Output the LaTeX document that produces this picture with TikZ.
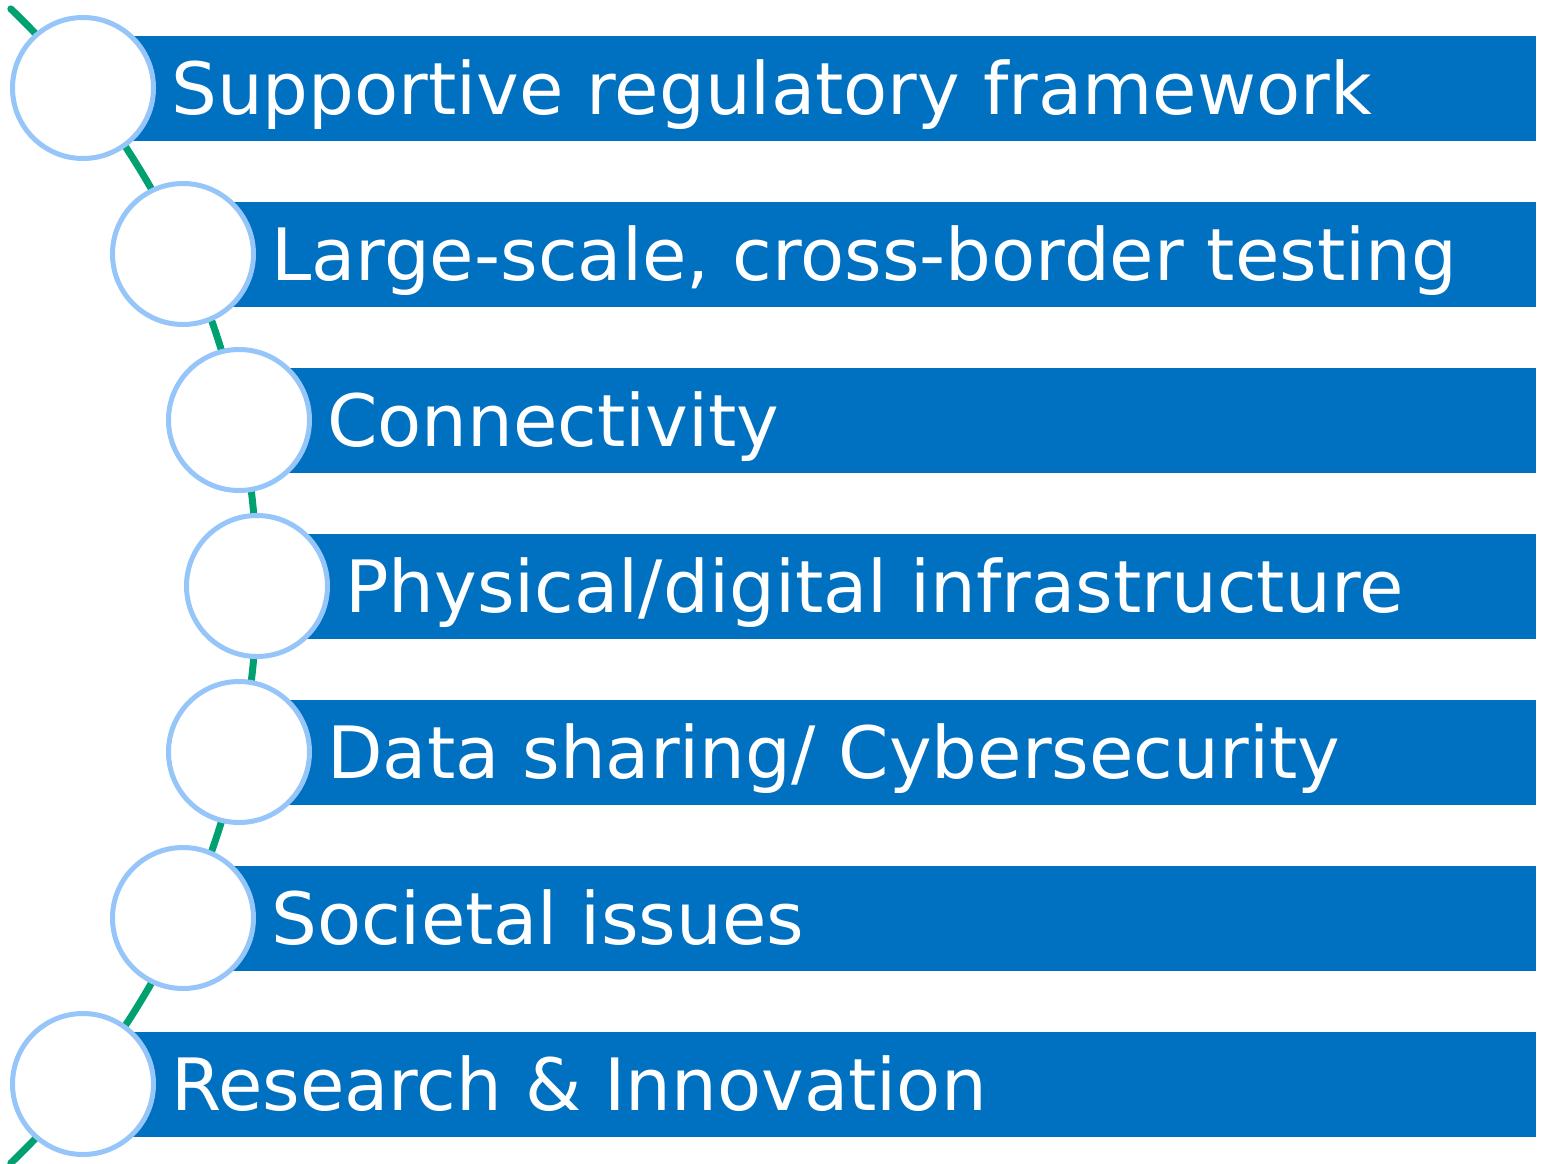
\documentclass[tikz,border=0pt]{standalone}
\usepackage{fontspec}
\setmainfont{DejaVu Sans}
\definecolor{barblue}{RGB}{0,112,192}
\definecolor{ringblue}{RGB}{150,197,250}
\definecolor{arcgreen}{RGB}{0,160,112}
\tikzset{
  bar/.style={fill=barblue, draw=none},
  ring/.style={circle, draw=ringblue, fill=white, line width=5pt, minimum size=141pt, inner sep=0pt},
  label/.style={anchor=base west, inner sep=0pt, text=white, font=\fontsize{72.2}{80}\selectfont},
  arcline/.style={draw=arcgreen, line width=7pt, line cap=round}
}
\begin{document}
\begin{tikzpicture}[x=1pt,y=1pt]
\useasboundingbox (0,0) rectangle (1544,-1164);
\begin{scope}
\clip (0,0) rectangle (1544,-1164);
\draw[arcline] (-542.6,-586) ++(-46.2:799.6) arc(-46.2:46.2:799.6);
\end{scope}
% bars
\foreach \i/\cx in {0/83,1/183,2/239,3/257,4/239,5/183,6/83}{
  \fill[bar] (\cx,{-36-166*\i}) rectangle (1536,{-141-166*\i});
}
% circles
\node[ring] (c1) at (83,-88) {};
\node[ring] (c2) at (183,-254) {};
\node[ring] (c3) at (239,-420) {};
\node[ring] (c4) at (257,-586) {};
\node[ring] (c5) at (239,-752) {};
\node[ring] (c6) at (183,-918) {};
\node[ring] (c7) at (83,-1084) {};
% labels
\node[label] (t1) at (171,-114) {Supportive regulatory framework};
\node[label] (t2) at (271,-280) {Large-scale, cross-border testing};
\node[label] (t3) at (327,-446) {Connectivity};
\node[label] (t4) at (345,-612) {Physical/digital infrastructure};
\node[label] (t5) at (327,-778) {Data sharing/ Cybersecurity};
\node[label] (t6) at (271,-944) {Societal issues};
\node[label] (t7) at (171,-1110) {Research \& Innovation};
\end{tikzpicture}
\end{document}
